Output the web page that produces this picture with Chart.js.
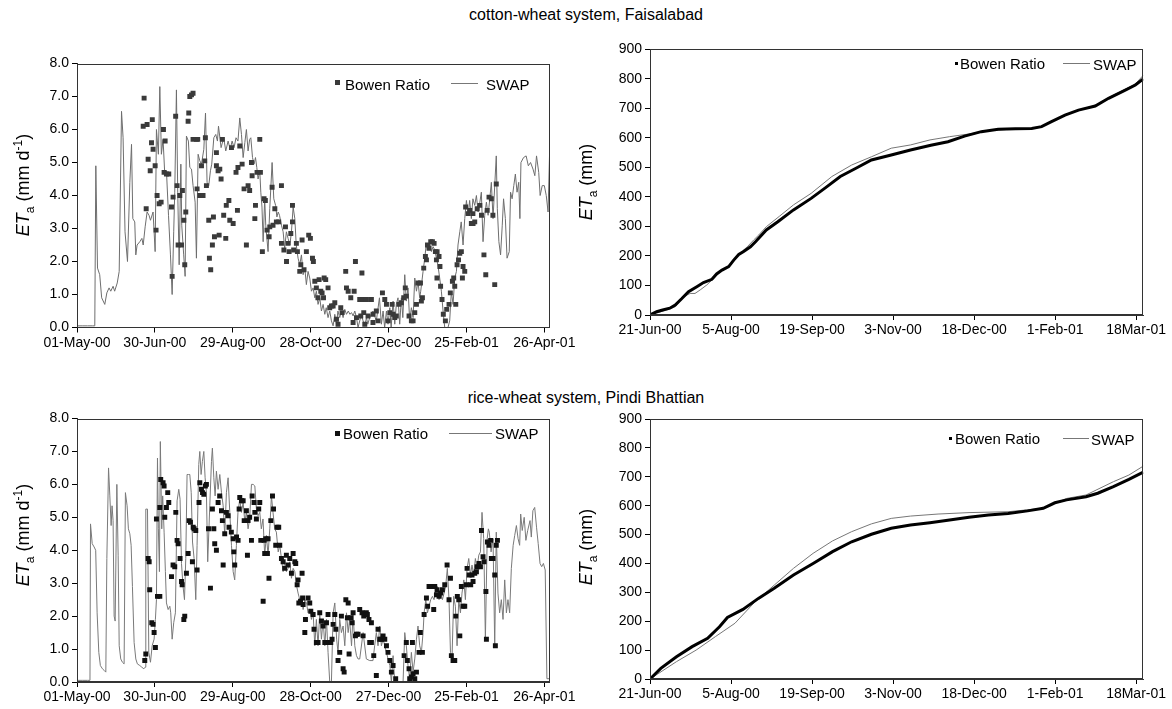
<!DOCTYPE html>
<html>

<head>
    <title>ETa comparison</title>
    <script src="https://cdn.jsdelivr.net/npm/chart.js"></script>
    <style>
        body {
            margin: 0;
            background: #fff;
            font-family: Arial, "Liberation Sans", sans-serif;
        }

        #fig {
            position: relative;
            width: 1172px;
            height: 709px;
            overflow: hidden;
        }

        #fig canvas {
            position: absolute;
        }

        .title {
            position: absolute;
            left: 0;
            width: 1172px;
            text-align: center;
            font-size: 16px;
            line-height: 16px;
        }

        .ytitle {
            position: absolute;
            font-size: 18px;
            white-space: nowrap;
            transform: translate(-50%, -50%) rotate(-90deg);
        }

        .ytitle sub,
        .ytitle sup {
            font-size: 12px;
        }

        .lg {
            position: absolute;
            font-size: 15px;
            line-height: 15px;
            white-space: nowrap;
        }

        .mk {
            position: absolute;
        }
    </style>
</head>

<body>
    <div id="fig">
        <div class="title" style="top:7px">cotton-wheat system, Faisalabad</div>
        <div class="title" style="top:390px">rice-wheat system, Pindi Bhattian</div>

        <canvas id="cwDaily" width="600" height="330" style="left:0;top:30px"></canvas>
        <canvas id="cwCum" width="592" height="330" style="left:580px;top:20px"></canvas>
        <canvas id="rwDaily" width="600" height="324" style="left:0;top:385px"></canvas>
        <canvas id="rwCum" width="592" height="324" style="left:580px;top:385px"></canvas>

        <div class="ytitle" style="left:24px;top:185px"><i>ET</i><sub>a</sub> (mm d<sup>-1</sup>)</div>
        <div class="ytitle" style="left:588px;top:182px"><i>ET</i><sub>a</sub> (mm)</div>
        <div class="ytitle" style="left:24px;top:535px"><i>ET</i><sub>a</sub> (mm d<sup>-1</sup>)</div>
        <div class="ytitle" style="left:588px;top:547px"><i>ET</i><sub>a</sub> (mm)</div>

        <!-- legends -->
        <div class="mk" style="left:335px;top:80px;width:5px;height:5px;background:#3a3a3a"></div>
        <div class="lg" style="left:345px;top:77px">Bowen Ratio</div>
        <div class="mk" style="left:451px;top:83px;width:27px;height:1px;background:#777"></div>
        <div class="lg" style="left:486px;top:77px">SWAP</div>

        <div class="mk" style="left:955px;top:62px;width:3px;height:3px;background:#000"></div>
        <div class="lg" style="left:960px;top:56px">Bowen Ratio</div>
        <div class="mk" style="left:1063px;top:63px;width:27px;height:1px;background:#777"></div>
        <div class="lg" style="left:1093px;top:57px">SWAP</div>

        <div class="mk" style="left:335px;top:431px;width:5px;height:5px;background:#111"></div>
        <div class="lg" style="left:343px;top:426px">Bowen Ratio</div>
        <div class="mk" style="left:449px;top:433px;width:43px;height:1px;background:#777"></div>
        <div class="lg" style="left:495px;top:426px">SWAP</div>

        <div class="mk" style="left:949px;top:437px;width:3px;height:3px;background:#000"></div>
        <div class="lg" style="left:955px;top:431px">Bowen Ratio</div>
        <div class="mk" style="left:1063px;top:438px;width:26px;height:1px;background:#777"></div>
        <div class="lg" style="left:1091px;top:432px">SWAP</div>
    </div>

    <script>
        // x values are days since the first tick of each panel
        const dailyTickDays = [0, 60, 120, 180, 240, 300, 360];
        const dailyTickLabels = ['01-May-00', '30-Jun-00', '29-Aug-00', '28-Oct-00', '27-Dec-00', '25-Feb-01', '26-Apr-01'];
        const cumTickDays = [0, 45, 90, 135, 180, 225, 270];
        const cumTickLabels = ['21-Jun-00', '5-Aug-00', '19-Sep-00', '3-Nov-00', '18-Dec-00', '1-Feb-01', '18Mar-01'];

        // cotton-wheat, daily ETa (mm/d): [day, value]
        const cwBowenDaily = [[51,6.1],[51.7,6.95],[53.3,3.6],[54,6.15],[54.8,5.1],[56.4,4.75],[57.4,5.6],[58,6.3],[58.6,5.4],[60.2,4.9],[60.9,2.95],[61.7,4.0],[63.3,3.75],[64.8,3.8],[66.6,6.0],[67.1,4.7],[67.9,5.65],[68.9,4.65],[70.7,4.65],[72.8,3.65],[73.3,1.55],[74,3.95],[76,6.4],[77.1,4.3],[77.9,2.5],[79.2,4.0],[80.5,2.5],[81.2,4.15],[82.3,3.25],[83,1.9],[83.8,3.5],[85.6,6.25],[86.1,6.5],[86.9,7.0],[88.2,7.05],[89.4,7.1],[89.4,5.7],[92,5.7],[92.5,4.2],[93,5.7],[94.6,4.0],[95.9,4.9],[97.1,4.0],[98.4,5.05],[98.9,5.75],[99.7,4.3],[101.5,3.25],[102,2.1],[103,1.75],[104.3,2.5],[105.1,3.35],[105.9,2.75],[107.4,5.3],[107.4,4.9],[108.7,4.75],[109.5,2.8],[110,4.8],[111,4.5],[112,5.7],[113,3.4],[114.6,2.7],[115,3.7],[117,3.85],[117.7,3.25],[119,5.45],[120.3,3.15],[122.5,4.7],[123.6,3.55],[124,4.85],[125.4,5.5],[127.2,4.95],[128.7,4.2],[130.5,2.5],[131.8,4.3],[133,4.15],[134.4,5.0],[134.9,4.6],[137,3.3],[137.5,3.7],[138.7,4.7],[140.8,5.7],[141.3,4.7],[142.8,2.3],[144.1,3.9],[145.1,3.85],[146.4,2.95],[148,2.75],[148.5,3.05],[150.3,4.25],[151,3.1],[152.4,3.6],[153.6,3.2],[155.4,3.2],[157.5,4.3],[157.5,2.55],[159.4,2.35],[160.6,3.05],[161.4,2.0],[162.6,2.55],[163.4,2.3],[164.7,2.85],[166,3.7],[166,3.2],[166.9,2.35],[169,2.55],[169.8,2.3],[171.6,1.7],[172.4,1.9],[173.4,2.65],[174.9,1.75],[176.7,2.3],[178.5,2.8],[179.8,2.7],[181.4,2.1],[182.1,2.0],[183.2,1.4],[184.4,1.2],[185.6,0.9],[186.5,1.45],[187.8,1.1],[188.8,1.05],[189.9,0.9],[190.4,1.5],[191.6,1.45],[193.4,1.2],[194.7,0.6],[196,0.65],[197.3,0.65],[198.6,0.75],[199.9,0.25],[201.1,0.1],[203.2,0.6],[204.2,0.45],[207,1.7],[207.6,1.2],[208.9,1.1],[210.9,0.9],[212.7,0.15],[213.5,1.1],[214.5,2.0],[215.3,0.3],[217.8,0.85],[218.6,0.35],[219.5,1.65],[220.4,0.85],[220.9,0.45],[221.7,0.1],[223,0.85],[224.2,0.35],[226.8,0.85],[228,0.15],[228.1,0.4],[230.6,0.5],[231.9,0.2],[235.3,1.05],[237.1,0.85],[238.4,0.7],[239.6,0.2],[241,0.45],[242.8,0.7],[243.5,0.4],[244.8,0.3],[246,0.35],[248,0.7],[249.9,0.75],[251.7,0.9],[252.9,1.2],[253.7,0.95],[255.8,0.35],[257.6,0.2],[258.9,0.2],[260.2,0.45],[261.5,0.7],[262.7,1.35],[264.6,1.35],[265.3,0.8],[266.1,0.9],[267.1,1.8],[268.4,2.15],[269.2,2.05],[270,2.5],[271.2,2.4],[272.5,2.6],[273.8,2.6],[275.1,2.55],[276.1,2.3],[276.9,2.05],[277.3,1.5],[277.4,2.3],[278.9,2.15],[279.6,1.85],[280.1,1.25],[281.2,0.85],[282.2,0.4],[283.8,0.2],[284.8,0.55],[286.6,0.7],[287.6,1.05],[289.2,1.4],[290.2,1.5],[291,1.25],[291.8,0.7],[292.8,1.9],[293.9,2.05],[294.9,2.25],[296.1,2.3],[296.9,1.5],[297.4,1.85],[298.7,1.7],[299.4,3.65],[301.3,3.45],[302.6,3.55],[303.8,3.15],[305,3.45],[305.1,3.15],[306.4,3.2],[308.3,3.6],[310.3,3.7],[311.6,3.4],[313.5,2.2],[314.9,1.6],[316,3.55],[317.4,3.95],[319.2,3.9],[320.4,3.4],[321.8,1.3],[323,4.35]];
        const cwSwapDaily = [[0,0.05],[4,0.05],[8,0.05],[12,0.05],[13.7,0.05],[14.5,4.9],[15.8,1.8],[17.5,1.6],[19,0.9],[21.4,0.7],[23,1.05],[24.7,1.2],[26,1.1],[27.8,1.25],[29,1.1],[31,1.35],[32.5,1.7],[34.3,6.55],[35.5,5.75],[37,2.9],[38.9,2.0],[40.7,4.4],[42,5.55],[43,3.3],[44.5,3.2],[45.3,2.2],[46.3,2.5],[48.4,2.6],[50,2.7],[51,2.5],[52.5,3.05],[54,3.5],[55.5,3.4],[56.6,3.25],[58.6,3.5],[60.2,2.3],[61.2,6.0],[62.7,5.25],[63.8,7.3],[65,5.25],[66.3,5.7],[67.6,4.65],[68.9,4.75],[70.5,3.4],[72,2.2],[73.3,1.0],[74.5,2.9],[75.3,4.1],[76.6,7.2],[77.6,4.1],[78.7,1.9],[80,4.95],[80.7,3.1],[82.2,2.2],[83.3,1.55],[84.3,5.8],[85.8,5.65],[86.9,4.85],[88.2,4.8],[89.4,4.3],[91,3.8],[92,2.1],[93.3,5.25],[94.6,5.05],[95.9,4.95],[97.7,5.4],[99,6.5],[100.2,4.4],[101.5,4.3],[102.8,4.75],[103.8,4.95],[105.4,5.75],[106.9,5.85],[108.2,5.65],[109,6.1],[111,5.45],[113,5.75],[114.6,5.35],[116.4,5.65],[118,5.4],[119.5,5.65],[121,5.45],[122.5,5.75],[124,5.65],[125.4,6.35],[126.7,5.85],[128,5.15],[129.3,5.6],[130.5,6.0],[131.8,5.35],[133,5.7],[133.9,5.75],[135.2,5.15],[136.4,4.95],[137.5,5.15],[138.5,4.85],[139.5,4.5],[140.8,4.75],[141.6,4.1],[142.5,3.65],[143.4,2.6],[144.6,3.9],[145.4,3.1],[147.2,2.3],[148.5,3.6],[150.3,5.0],[151.6,3.9],[153,3.7],[154,3.35],[155,3.5],[156,3.4],[157.5,3.1],[158.8,2.9],[160,2.4],[161.3,2.9],[162.6,2.7],[164,2.5],[165.2,2.9],[166.5,3.65],[167.8,3.3],[168.9,2.5],[170.3,2.1],[171.6,1.9],[172.9,2.2],[174.2,1.6],[175.5,1.8],[176.7,1.3],[178,1.7],[179.3,1.5],[180.6,1.1],[181.9,1.2],[183.2,0.9],[184.4,1.1],[185.7,0.7],[187,0.9],[188.3,0.5],[189.6,0.7],[190.9,0.4],[192,0.6],[193.4,0.3],[194.7,0.5],[196,0.2],[197.3,0.05],[198.6,0.4],[199.9,0.1],[201,0.5],[202.4,0.3],[203.7,0.5],[205,0.3],[206.3,0.55],[207.6,0.4],[209,0.5],[210.2,0.4],[211.5,0.45],[212.7,0.35],[214,0.5],[215.3,0.3],[216.5,0],[217.8,0.2],[219,0.4],[220.4,0.2],[221.7,0.05],[223,0.3],[224,0.1],[225.5,0.3],[228,0.5],[230.6,0.2],[233,0.9],[234.5,0.1],[235.8,0.5],[237,0],[238.4,0.5],[239.6,0.1],[241,0.6],[242,0],[243.5,0.8],[244.8,0.1],[246,0.7],[247.3,0.9],[248.6,0.1],[249.9,0.9],[251,0.3],[252.5,1.6],[253.7,0.8],[255,1.2],[256.3,0.2],[257.6,0.6],[258.9,0.3],[260.2,1.5],[261.5,1.1],[262.7,1.4],[264,0.9],[264.8,1.1],[266.6,1.7],[267.9,2.1],[269,2.5],[270.4,2.4],[271.7,2.55],[273,2.3],[274.3,2.45],[275.6,2.35],[276.9,2.1],[278,1.9],[279.4,1.5],[280.7,1.1],[282,0.5],[283.3,0],[284.5,0],[285.8,0],[287.1,0.2],[288.4,1.1],[289.7,0.7],[291,1.5],[292.3,1.7],[293.5,2.5],[294.9,2.9],[296,3.2],[297.4,2.5],[298.7,3.3],[300,3.85],[301.3,3.4],[302.5,3.85],[303.8,3.3],[305,3.9],[306.4,3.7],[307.7,4.0],[309,3.5],[310,3.7],[311.5,4.1],[312.8,2.6],[314.1,3.4],[315.4,3.8],[316.7,3.4],[318,3.9],[319.2,4.4],[320.5,3.3],[321.8,4.3],[323,5.2],[323.8,3.6],[325,2.6],[326.3,2.2],[327.6,3.1],[328.6,3.9],[330,3.3],[331.3,2.1],[333,2.3],[334,4.1],[335.2,3.9],[336.5,4.3],[337.7,4.65],[339,4.1],[340.3,4.4],[341.2,3.3],[342,5.0],[344,5.15],[346,5.2],[347.7,4.9],[349.4,5.0],[351.3,4.8],[352.7,4.6],[354,5.2],[355.7,4.7],[356.8,4.0],[358.4,4.3],[360,4.3],[361.5,4.0],[362.9,3.5],[364,5.2]];

        // rice-wheat, daily ETa (mm/d): [day, value]
        const rwBowenDaily = [[52.2,0.65],[53,0.85],[54.8,3.75],[55.6,3.65],[56,2.8],[57.6,1.8],[58.6,1.75],[59.4,1.5],[60.4,1.05],[61.2,4.95],[62,2.6],[63.8,2.6],[63.8,5.3],[64.5,6.15],[66.3,6.05],[67.1,5.95],[67.6,5.0],[68.9,5.3],[69.9,5.75],[70.7,5.45],[72.8,3.2],[74,3.55],[75.3,3.5],[76.1,5.15],[77.1,4.3],[77.9,4.2],[79.4,3.75],[80.5,3.05],[81,2.95],[82.3,1.9],[83,2.0],[84.3,3.3],[85.6,3.9],[86.4,4.9],[87.4,4.85],[88.9,3.65],[89.5,4.7],[90.2,4.65],[91.5,4.6],[92.5,3.4],[94,5.45],[94.6,6.05],[95.9,5.85],[96.7,5.75],[97.7,5.7],[98.9,5.95],[99.7,6.0],[101.3,4.65],[102.8,2.85],[104.3,5.25],[105.4,4.65],[106.1,4.2],[107.4,4.0],[108.7,5.45],[109.9,5.65],[111.3,5.2],[112,4.9],[112.6,3.55],[113.8,4.5],[115.1,5.15],[116.4,5.05],[117.1,4.7],[118.9,4.55],[120.3,4.35],[120.8,3.95],[121.5,3.55],[122.9,4.4],[124.1,4.3],[124.9,5.25],[125.4,5.6],[126.7,5.5],[128,5.5],[128.8,4.9],[130.5,5.2],[131.3,3.85],[131.8,4.9],[133,5.0],[134.4,4.3],[134.9,5.65],[136.4,5.45],[137,5.15],[138.2,4.95],[140,5.25],[140.8,5.45],[141.6,4.3],[143.4,2.45],[144.1,4.3],[144.6,3.9],[145.4,4.35],[146.7,3.9],[147.2,4.35],[147.9,3.15],[149.3,4.9],[150.6,5.65],[151.4,5.25],[153.1,4.15],[154.1,4.7],[155.4,4.7],[156.2,4.15],[157.5,3.75],[158.8,3.65],[160,3.45],[161.3,3.85],[162.6,3.55],[163.9,3.75],[165.2,3.3],[166.5,3.9],[167.8,3.65],[168.5,3.6],[169.6,2.95],[170.3,3.1],[170.9,2.4],[172.2,2.45],[173.4,3.3],[173.8,2.55],[174.2,2.35],[175.5,1.5],[176,1.9],[178,2.55],[179.3,2.4],[180.1,2.15],[181.9,2.05],[182.6,1.6],[184.4,1.2],[185.7,1.2],[187,2.1],[188.3,1.85],[189.6,1.7],[190.9,1.2],[192.2,1.8],[193.4,2.05],[194.2,1.2],[195.5,1.2],[196.5,1.3],[197.3,1.75],[198.6,2.05],[199.4,1.6],[201.1,0.65],[202.4,0.9],[203.7,2.0],[205,0.4],[205.8,0.3],[207.1,2.5],[208.3,1.95],[208.9,2.4],[209.6,0.85],[210.9,1.95],[212,1.8],[212.7,2.1],[214.5,1.4],[215.3,1.45],[216.5,1.45],[217.8,2.2],[219.6,2.1],[220.4,1.4],[220.9,2.0],[221.6,2.05],[222.9,2.1],[223.7,2.05],[224.9,1.9],[225.5,1.2],[226.8,1.8],[226.8,1.2],[228.6,0.8],[230.6,0.2],[231.9,1.6],[233.2,1.3],[234.5,1.3],[235.8,1.4],[237.1,1.3],[238.4,1.1],[239.6,0.9],[241,0.65],[242.2,0.3],[243.5,0.5],[245.5,0.1],[252,0.8],[253.7,1.2],[254.5,0.65],[255.8,0.4],[256.3,0.1],[257.6,0.15],[258.4,1.2],[258.9,0.25],[260.2,0.1],[261.5,0.3],[263.5,0.9],[264.5,1.5],[266.1,0.9],[267.4,2.05],[269.2,2.55],[270.1,2.3],[271.2,2.9],[272.5,2.9],[273.8,2.9],[274.8,2.2],[275.6,2.9],[276.9,2.65],[277.4,2.8],[278.9,2.6],[280.2,2.7],[281.5,2.8],[283.3,2.95],[285.1,3.55],[286.6,2.5],[287.7,3.15],[288.4,0.8],[289.7,0.65],[291,0.65],[291.8,2.0],[293,2.6],[294.1,2.5],[294.9,1.4],[296.1,2.9],[297.4,2.3],[298.7,2.3],[300,2.95],[300.5,3.45],[302.1,3.25],[303.3,2.95],[304.3,3.25],[305.1,3.05],[306.4,3.3],[307.7,3.35],[308.2,3.5],[309.7,3.6],[310.8,3.5],[311.6,4.6],[312.8,3.8],[313.6,3.65],[315,2.75],[315.4,1.3],[316.2,4.25],[317.4,4.15],[318.7,4.3],[319.2,3.75],[320.5,3.75],[321.8,3.25],[322.3,1.1],[323,4.15],[323.9,4.3]];
        const rwSwapDaily = [[0,0.05],[4,0.05],[8,0.05],[10,0.05],[10.4,4.8],[11.7,4.2],[13.2,4.1],[14.4,4.0],[15.5,2.1],[16.8,0.9],[18,0.5],[19.6,0.4],[21,0.35],[22.2,0.3],[23,3.75],[24.3,6.5],[25.3,5.65],[26.3,4.75],[27,5.35],[27.8,4.9],[28.6,2.0],[29.4,1.85],[30.7,6.0],[31.7,3.85],[32.5,1.1],[33.7,0.7],[35,0.6],[36.3,0.55],[37.3,5.75],[38.6,5.35],[39.6,4.65],[40.7,4.5],[41.7,4.15],[42.7,2.9],[44,1.2],[45.3,0.7],[46.5,0.55],[48.4,0.5],[49.9,0.45],[51.5,0.4],[52.5,0.45],[53,5.25],[54.3,5.25],[55.3,0.9],[56.6,0.6],[57.9,1.1],[59.4,1.3],[60.4,1.9],[61.2,2.5],[62,6.8],[62.7,4.65],[63.5,3.35],[64.2,7.3],[65.3,4.65],[66,5.65],[67.1,4.55],[68.1,3.35],[68.9,2.4],[70.2,2.2],[71.5,2.3],[72.2,2.1],[73.3,1.3],[74.5,1.8],[75.8,2.1],[77.1,5.5],[78.4,5.85],[79.4,5.55],[80.5,3.6],[81.7,2.9],[82.8,2.5],[83.8,3.75],[84.8,6.3],[85.9,6.3],[86.9,6.3],[88,5.75],[89,4.25],[90.2,3.75],[91.5,2.5],[92.5,4.15],[93.8,6.6],[94.6,7.0],[95.6,6.3],[96.6,6.7],[97.7,7.0],[98.7,6.2],[99.7,5.75],[100.7,3.65],[102.3,5.35],[103.6,6.7],[104.3,7.1],[105.4,6.2],[106.4,5.65],[107.4,6.4],[108.7,5.85],[110,6.3],[111.3,5.75],[112.6,5.35],[113.8,4.45],[115.1,5.75],[116.4,6.2],[117.7,5.15],[119,4.15],[120.3,3.35],[121.5,3.1],[122.8,4.15],[124,5.15],[125.4,5.55],[126.7,5.15],[128,5.45],[129.3,4.85],[130.5,5.15],[131.8,4.65],[133,4.95],[134.4,6.0],[135.7,6.0],[137,5.95],[138.2,5.25],[139.5,5.05],[140.8,5.15],[142,4.65],[143.3,4.95],[144.6,3.85],[145.9,4.45],[147.2,3.85],[148.5,4.65],[149.8,5.65],[151,5.15],[152.3,4.65],[153.6,4.55],[155,3.95],[156.2,4.15],[157.5,3.75],[158.8,3.35],[160,3.65],[161.3,3.35],[162.6,3.45],[163.9,3.65],[165.2,3.15],[166.5,3.45],[167.8,3.35],[169,2.95],[170.3,2.7],[171.6,2.5],[172.9,2.6],[174.2,2.2],[175.5,2.5],[176.8,2.4],[178,2.1],[179.3,2.2],[180.6,1.9],[181.9,2.1],[183.2,1.1],[184.4,1.9],[185.7,1.1],[187,2.1],[188.3,1.3],[189.6,1.9],[190.9,1.1],[192.2,1.9],[193.4,0.9],[194.7,0],[196,0],[197.3,2.1],[198.6,2.4],[200,1.3],[201.1,0.9],[202.4,1.9],[203.7,1.5],[205,1.7],[206.3,1.1],[207.6,2.1],[208.9,1.5],[210,1.9],[211.5,1.1],[212.7,2.1],[214,1.1],[215.3,0.8],[216.5,0.7],[217.8,0.7],[220.4,1.5],[222.9,0.7],[225.5,0.65],[228,0.65],[229.3,1.1],[230.6,1.5],[231.9,1.1],[233.2,1.7],[234.5,1.1],[235.8,1.3],[237.1,1.1],[238.4,0.9],[239.6,0.7],[241,0.5],[242.2,0],[243.5,0.8],[244.8,0],[251.2,0],[252.5,1.5],[253.7,1.1],[255,0.5],[256.3,0.1],[257.6,0.9],[258.9,0.3],[260.2,0.7],[261.5,1.3],[262.7,1.7],[264,1.1],[265.3,0.9],[266.6,1.5],[267.4,2.1],[268.7,2.5],[270,2.1],[271.2,2.3],[272.5,2.5],[273.8,2.6],[275,2.5],[276.3,2.7],[277.6,2.9],[278.9,2.5],[280.2,2.7],[281.5,2.5],[282.8,2.7],[284,2.9],[285.3,3.45],[286.6,2.5],[287.7,0.9],[288.9,0.7],[290.2,2.6],[291.5,2.3],[292.8,1.1],[294.1,2.5],[295.4,2.1],[296.6,2.7],[298,3.1],[299.2,2.5],[300.5,3.45],[301.8,3.75],[303.1,3.25],[304.3,3.55],[305.6,3.25],[306.9,3.75],[308.2,3.45],[309.5,3.85],[310.8,3.95],[312,5.15],[313.3,4.35],[314.6,1.3],[316,4.35],[316.9,4.65],[317.6,4.55],[319,3.95],[320.5,4.35],[321.8,1.1],[323,4.55],[324.3,2.7],[325.6,2.1],[326.9,2.5],[328.2,1.9],[329.5,3.1],[330.8,2.1],[332,2.5],[333.3,2.1],[334.6,3.45],[336,4.15],[337.2,4.45],[338.5,4.75],[339.8,4.35],[341,4.15],[341.8,5.1],[343,4.6],[344.5,5.0],[345.8,4.3],[347.2,4.6],[349,4.9],[350,4.4],[351.2,5.2],[352.6,5.3],[354,4.7],[355.3,4.2],[356.7,3.6],[358,3.5],[359.3,3.6],[360.7,3.4],[362,0.1],[364,0.1]];

        // cumulative ETa (mm): [day since 21-Jun-00, value]
        const cwBowenCum = [[0,0],[3.7,11],[7,17],[11,23],[14,34],[17.7,56],[21.4,79],[26,96],[29.7,110],[34.4,121],[37,139],[40,152],[43.7,164],[46.5,186],[49.3,205],[52,215],[55.8,231],[58.6,248],[64.6,288],[71,316],[79.7,356],[89.5,395],[97,429],[105.7,469],[114.4,497],[123,525],[134,542],[144.7,559],[156,575],[165.5,587],[174.7,606],[184,621],[193.4,629],[203,631],[212,632],[217.5,638],[223,655],[230.5,677],[238,694],[247.3,708],[254.7,734],[264,762],[269.6,779],[274,800]];
        const cwSwapCum = [[0,0],[9.3,17],[14,28],[18.6,62],[22.3,73],[25,73],[27.9,85],[31.6,102],[35.3,124],[39,147],[43.7,164],[46.5,186],[50,209],[54,231],[57.6,254],[60.4,271],[64.6,299],[72,335],[79.7,373],[89.5,412],[101,469],[112,508],[123,536],[134,565],[144.7,576],[155.5,593],[166.4,604],[177,613],[188,624],[199,629],[212,632],[217.5,638],[223,655],[230.5,677],[238,694],[247.3,710],[254.7,736],[264,765],[269.6,783],[274,812]];
        const rwBowenCum = [[0,0],[6,37],[14.7,77],[23.4,112],[32,141],[38.6,181],[43,213],[51.6,241],[60.2,279],[69,314],[79.7,360],[90.6,400],[101.4,441],[112,475],[123,501],[134,522],[144.7,533],[155.5,541],[166.4,550],[177.2,560],[188,568],[198.9,573],[209.7,582],[218.4,591],[224.9,610],[231.4,620],[242.2,631],[248.7,643],[257.4,666],[266,691],[274,716]];
        const rwSwapCum = [[0,0],[14.7,60],[25.6,100],[36.4,147],[47.2,193],[58,265],[69,325],[79.7,383],[90.6,435],[101.4,478],[112,510],[123,537],[134,556],[144.7,564],[160,571],[177.2,576],[198.9,579],[218.4,591],[231.4,625],[242.2,637],[257.4,683],[266,706],[274,737]];

        Chart.defaults.font.family = 'Arial, "Liberation Sans", sans-serif';
        Chart.defaults.color = '#000';

        const pts = arr => arr.map(p => ({ x: p[0], y: p[1] }));

        // box round the plot area
        const frame = {
            id: 'frame',
            afterDraw(chart) {
                const a = chart.chartArea;
                const ctx = chart.ctx;
                const l = Math.round(a.left) + 0.5, t = Math.round(a.top) + 0.5;
                const r = Math.round(a.right) - 0.5, b = Math.round(a.bottom) - 0.5;
                ctx.save();
                ctx.strokeStyle = '#333';
                ctx.lineWidth = 1;
                ctx.strokeRect(l, t, r - l, b - t);
                ctx.restore();
            }
        };

        function panel(id, o) {
            const axisGrid = { drawOnChartArea: false, drawTicks: true, tickLength: 5, color: '#000' };
            return new Chart(document.getElementById(id), {
                type: 'scatter',
                data: { datasets: o.datasets },
                options: {
                    responsive: false,
                    animation: false,
                    layout: { padding: o.pad },
                    plugins: { legend: { display: false }, tooltip: { enabled: false } },
                    scales: {
                        x: {
                            type: 'linear',
                            min: 0,
                            max: o.xMax,
                            afterBuildTicks: s => { s.ticks = o.tickDays.map(v => ({ value: v })); },
                            afterFit: s => { s.height = o.xh; },
                            ticks: {
                                autoSkip: false,
                                maxRotation: 0,
                                padding: 2,
                                font: { size: 14 },
                                callback: (v, i) => o.tickLabels[i]
                            },
                            grid: axisGrid,
                            border: { color: '#333' }
                        },
                        y: {
                            min: 0,
                            max: o.yMax,
                            afterFit: s => { s.width = o.yw; },
                            ticks: {
                                stepSize: o.yStep,
                                padding: 3,
                                font: { size: 14 },
                                callback: v => o.yFmt(v)
                            },
                            grid: axisGrid,
                            border: { color: '#333' }
                        }
                    }
                },
                plugins: [frame]
            });
        }

        const squares = (data, color) => ({
            data: pts(data),
            pointStyle: 'rect',
            pointRadius: 3.5,
            pointBorderWidth: 0,
            backgroundColor: color,
            showLine: false
        });
        const thinLine = (data, color) => ({
            data: pts(data),
            showLine: true,
            borderColor: color,
            borderWidth: 1,
            pointRadius: 0
        });
        const thickLine = data => ({
            data: pts(data),
            showLine: true,
            borderColor: '#000',
            borderWidth: 3,
            pointRadius: 0
        });

        panel('cwDaily', {
            datasets: [squares(cwBowenDaily, '#3a3a3a'), thinLine(cwSwapDaily, '#6e6e6e')],
            pad: { left: 0, top: 33.5, right: 50.5, bottom: 0 },
            yw: 77, xh: 32.5, xMax: 364,
            tickDays: dailyTickDays, tickLabels: dailyTickLabels,
            yMax: 8, yStep: 1, yFmt: v => v.toFixed(1)
        });

        panel('cwCum', {
            datasets: [thickLine(cwBowenCum), thinLine(cwSwapCum, '#777')],
            pad: { left: 0, top: 29.3, right: 28.7, bottom: 0 },
            yw: 70, xh: 35, xMax: 274,
            tickDays: cumTickDays, tickLabels: cumTickLabels,
            yMax: 900, yStep: 100, yFmt: v => String(v)
        });

        panel('rwDaily', {
            datasets: [squares(rwBowenDaily, '#111'), thinLine(rwSwapDaily, '#7a7a7a')],
            pad: { left: 0, top: 33.5, right: 50.5, bottom: 0 },
            yw: 77, xh: 27, xMax: 364,
            tickDays: dailyTickDays, tickLabels: dailyTickLabels,
            yMax: 8, yStep: 1, yFmt: v => v.toFixed(1)
        });

        panel('rwCum', {
            datasets: [thickLine(rwBowenCum), thinLine(rwSwapCum, '#777')],
            pad: { left: 0, top: 34, right: 28.7, bottom: 0 },
            yw: 70, xh: 30, xMax: 274,
            tickDays: cumTickDays, tickLabels: cumTickLabels,
            yMax: 900, yStep: 100, yFmt: v => String(v)
        });
    </script>
</body>

</html>
